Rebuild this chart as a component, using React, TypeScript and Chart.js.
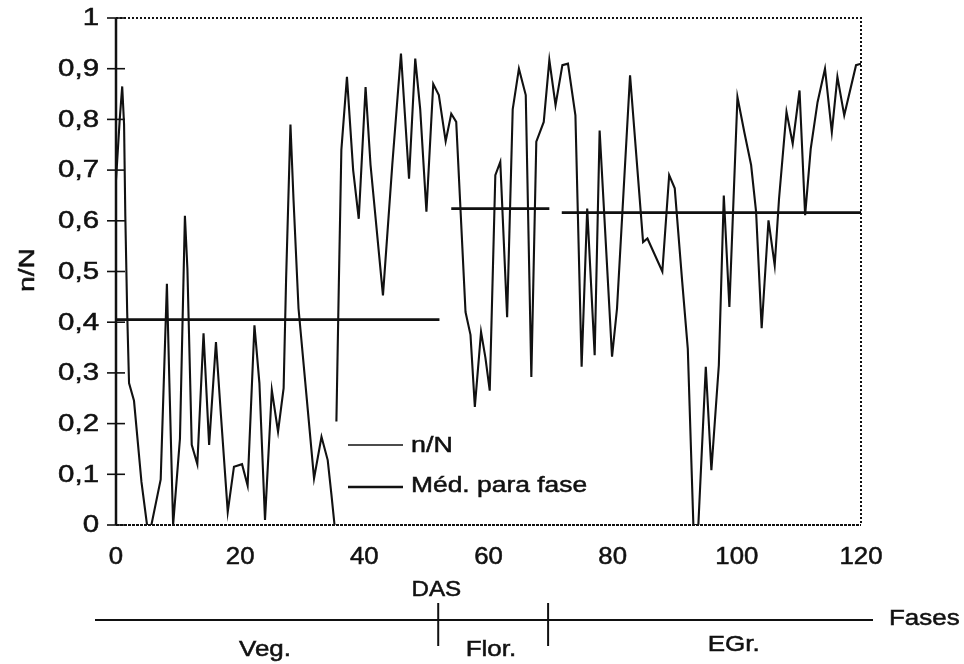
import React, { useEffect, useRef } from "react";
import { Chart, registerables } from "chart.js";

Chart.register(...registerables);

// ---- data ----
const dasDays: number[] = [
  0, 0.6, 1.0, 1.3, 1.5, 1.8, 2.1, 2.9, 4.1, 5.0, 5.7, 7.2, 8.2, 8.6, 9.2, 10.3, 11.1, 11.5, 12.2, 13.1,
  14.1, 15.0, 16.1, 16.9, 18.0, 19.0, 20.3, 21.2, 22.3, 23.1, 24.0, 25.1, 26.1, 27.0, 27.4, 28.1, 28.6,
  29.4, 31.9, 33.1, 34.1, 34.7, 35.2, 35.35,
  35.5, 35.9, 36.3, 37.2, 38.2, 39.1, 40.2, 41.0, 43.0, 44.5, 45.9, 47.2, 48.2, 49.0, 50.0, 51.1, 52.0,
  53.1, 54.0, 54.8, 56.3, 57.1, 57.8, 58.8, 59.5, 60.2, 61.1, 61.9, 63.0, 63.9, 64.9, 66.0, 66.9, 67.7,
  68.9, 69.8, 70.8, 71.9, 72.8, 74.0, 75.0, 75.9, 77.1, 77.9, 79.9, 80.7, 82.8, 84.9, 85.6, 88.0, 89.1,
  90.0, 91.2, 92.1, 93.0, 93.8, 95.0, 95.9, 97.1, 97.9, 98.8, 100.1, 101.2, 102.3, 103.1, 104.0, 105.1,
  106.1, 106.8, 108.0, 109.0, 110.1, 111.0, 111.9, 113.0, 114.2, 115.3, 116.2, 117.3, 119.2, 120.0,
];
const ratioValues: (number | null)[] = [
  0.68, 0.8, 0.865, 0.79, 0.61, 0.42, 0.28, 0.245, 0.085, 0.0, 0.0, 0.09, 0.476, 0.28, 0.0, 0.17, 0.61,
  0.506, 0.158, 0.12, 0.378, 0.158, 0.361, 0.217, 0.026, 0.115, 0.12, 0.078, 0.394, 0.28, 0.01, 0.266,
  0.184, 0.27, 0.486, 0.79, 0.64, 0.427, 0.092, 0.174, 0.128, 0.06, 0.0, null,
  0.204, 0.48, 0.74, 0.884, 0.7, 0.604, 0.864, 0.71, 0.453, 0.71, 0.93, 0.683, 0.92, 0.82, 0.618, 0.87,
  0.848, 0.757, 0.811, 0.795, 0.42, 0.375, 0.233, 0.381, 0.33, 0.265, 0.69, 0.716, 0.41, 0.82, 0.9,
  0.848, 0.292, 0.756, 0.795, 0.917, 0.828, 0.907, 0.91, 0.808, 0.312, 0.624, 0.335, 0.778, 0.332,
  0.427, 0.887, 0.558, 0.565, 0.5, 0.69, 0.664, 0.48, 0.348, 0.0, 0.0, 0.312, 0.108, 0.315, 0.65, 0.43,
  0.844, 0.775, 0.71, 0.618, 0.388, 0.601, 0.512, 0.644, 0.815, 0.752, 0.857, 0.611, 0.742, 0.834, 0.9,
  0.775, 0.884, 0.808, 0.907, 0.91,
];

const phaseNames = ["Veg.", "Flor.", "EGr."];
const phaseStart = [0, 54, 71.8];
const phaseEnd = [52.1, 69.8, 120];
const phaseMedian = [0.405, 0.624, 0.616];
const phaseBoundaries = [51.9, 69.6];

const xTicks = [0, 20, 40, 60, 80, 100, 120];
const yTicks = [0, 0.1, 0.2, 0.3, 0.4, 0.5, 0.6, 0.7, 0.8, 0.9, 1];
const yTickLabels = ["0", "0,1", "0,2", "0,3", "0,4", "0,5", "0,6", "0,7", "0,8", "0,9", "1"];

const seriesLabel = "n/N";
const medianLabel = "Méd. para fase";
const yTitle = "n/N";
const xTitle = "DAS";
const phaseTitle = "Fases";

// ---- styling ----
const FONT = '"Liberation Sans", Arial, Helvetica, sans-serif';
const INK = "#111";

function drawText(
  ctx: CanvasRenderingContext2D,
  text: string,
  x: number,
  y: number,
  size: number,
  align: CanvasTextAlign,
  sx = 1.3,
  rot = 0
) {
  ctx.save();
  ctx.translate(x, y);
  if (rot) ctx.rotate(rot);
  ctx.scale(sx, 1);
  ctx.font = `${size}px ${FONT}`;
  ctx.textAlign = align;
  ctx.textBaseline = "middle";
  ctx.fillStyle = INK;
  ctx.strokeStyle = INK;
  ctx.lineWidth = 0.5;
  ctx.fillText(text, 0, 0);
  ctx.strokeText(text, 0, 0);
  ctx.restore();
}

const decorPlugin = {
  id: "decor",
  afterDraw(chart: any) {
    const ctx: CanvasRenderingContext2D = chart.ctx;
    const xs = chart.scales.x;
    const ys = chart.scales.y;
    const a = chart.chartArea;
    ctx.save();
    ctx.strokeStyle = INK;
    ctx.lineCap = "butt";

    // frame: dotted top / right / bottom, solid left
    ctx.lineWidth = 2;
    ctx.setLineDash([2, 2]);
    ctx.beginPath();
    ctx.moveTo(a.left, a.top);
    ctx.lineTo(a.right, a.top);
    ctx.lineTo(a.right, a.bottom);
    ctx.stroke();
    ctx.setLineDash([3, 1]);
    ctx.beginPath();
    ctx.moveTo(a.left, a.bottom);
    ctx.lineTo(a.right, a.bottom);
    ctx.stroke();
    ctx.setLineDash([]);
    ctx.lineWidth = 2.5;
    ctx.beginPath();
    ctx.moveTo(a.left, a.top);
    ctx.lineTo(a.left, a.bottom);
    ctx.stroke();

    // y ticks (crossing the axis) and labels
    ctx.lineWidth = 1.6;
    yTicks.forEach((v, i) => {
      const py = ys.getPixelForValue(v);
      ctx.beginPath();
      ctx.moveTo(a.left - 9, py);
      ctx.lineTo(a.left + 9, py);
      ctx.stroke();
      drawText(ctx, yTickLabels[i], a.left - 17, py + 1, 23, "right", 1.28);
    });

    // x labels
    xTicks.forEach((v) => {
      const px = xs.getPixelForValue(v);
      drawText(ctx, String(v), px, a.bottom + 33, 23, "center", 1.12);
    });

    // y title
    drawText(ctx, yTitle, 28, 270, 22, "center", 1.28, -Math.PI / 2);

    // legend inside plot
    ctx.lineWidth = 1.6;
    ctx.beginPath();
    ctx.moveTo(348, 445);
    ctx.lineTo(403, 445);
    ctx.stroke();
    ctx.lineWidth = 2.6;
    ctx.beginPath();
    ctx.moveTo(348, 487);
    ctx.lineTo(403, 487);
    ctx.stroke();
    drawText(ctx, seriesLabel, 411, 446, 22, "left", 1.22);
    drawText(ctx, medianLabel, 411, 486, 22, "left", 1.2);

    // DAS title
    drawText(ctx, xTitle, xs.getPixelForValue(51.6), 590, 22, "center", 1.1);

    // phase axis
    const phaseY = 620;
    ctx.lineWidth = 2;
    ctx.beginPath();
    ctx.moveTo(95, phaseY);
    ctx.lineTo(873, phaseY);
    ctx.stroke();
    phaseBoundaries.forEach((b) => {
      const px = xs.getPixelForValue(b);
      ctx.beginPath();
      ctx.moveTo(px, 603);
      ctx.lineTo(px, 646);
      ctx.stroke();
    });
    drawText(ctx, phaseTitle, 889, 619, 22, "left", 1.18);
    const labelDays = [24, 60.4, 99.5];
    const labelYs = [650, 650, 645];
    phaseNames.forEach((n, i) => {
      drawText(ctx, n, xs.getPixelForValue(labelDays[i]), labelYs[i], 22, "center", 1.18);
    });
    ctx.restore();
  },
};

export default function App() {
  const ref = useRef<HTMLCanvasElement | null>(null);

  useEffect(() => {
    if (!ref.current) return;
    const seriesData = dasDays.map((d, i) => ({ x: d, y: ratioValues[i] }));
    const medianData: { x: number; y: number | null }[] = [];
    phaseMedian.forEach((m, i) => {
      medianData.push({ x: phaseStart[i], y: m });
      medianData.push({ x: phaseEnd[i], y: m });
      if (i < phaseMedian.length - 1) medianData.push({ x: (phaseEnd[i] + phaseStart[i + 1]) / 2, y: null });
    });

    const chart = new Chart(ref.current, {
      type: "line",
      data: {
        datasets: [
          {
            label: seriesLabel,
            data: seriesData as any,
            borderColor: INK,
            borderWidth: 2.1,
            pointRadius: 0,
            tension: 0,
            spanGaps: false,
          },
          {
            label: medianLabel,
            data: medianData as any,
            borderColor: INK,
            borderWidth: 2.8,
            pointRadius: 0,
            tension: 0,
            spanGaps: false,
          },
        ],
      },
      options: {
        animation: false,
        responsive: false,
        devicePixelRatio: 1,
        layout: { padding: { left: 116, right: 103, top: 18, bottom: 139 } },
        plugins: { legend: { display: false }, tooltip: { enabled: false }, title: { display: false } },
        scales: {
          x: { type: "linear", min: 0, max: 120, display: false },
          y: { type: "linear", min: 0, max: 1, display: false },
        },
      },
      plugins: [decorPlugin],
    });
    return () => chart.destroy();
  }, []);

  return (
    <div style={{ position: "fixed", left: 0, top: 0, width: 964, height: 664, background: "#fff" }}>
      <canvas ref={ref} width={964} height={664} style={{ display: "block" }} />
    </div>
  );
}
